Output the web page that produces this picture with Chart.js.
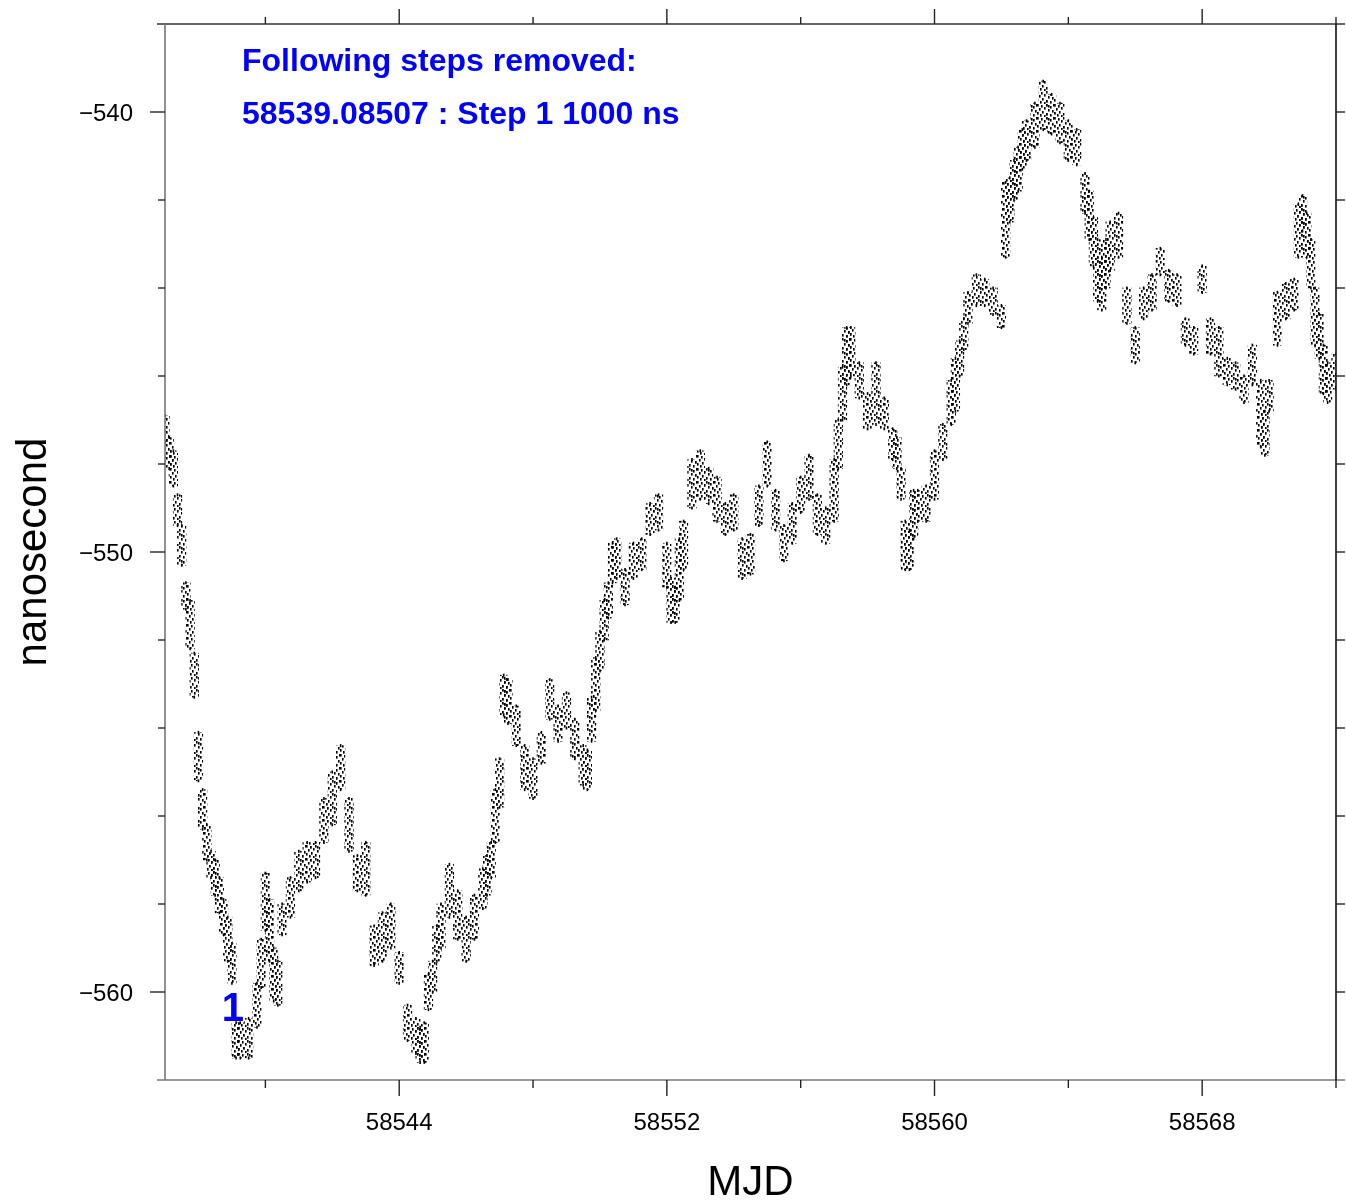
<!DOCTYPE html>
<html>
<head>
<meta charset="utf-8">
<script src="https://cdn.jsdelivr.net/npm/chart.js@4.4.1/dist/chart.umd.min.js"></script>
<style>
  html, body { margin: 0; padding: 0; background: #fff; }
  canvas { display: block; }
</style>
</head>
<body>
<canvas id="chart" width="1346" height="1203"></canvas>
<script>
// sample times (MJD), read every quarter day
const mjd = [
  58537.00, 58537.25, 58537.50, 58537.75, 58538.00, 58538.25, 58538.50, 58538.75,
  58539.00, 58539.25, 58539.50, 58539.75, 58540.00, 58540.25, 58540.50, 58540.75,
  58541.00, 58541.25, 58541.50, 58541.75, 58542.00, 58542.25, 58542.50, 58542.75,
  58543.00, 58543.25, 58543.50, 58543.75, 58544.00, 58544.25, 58544.50, 58544.75,
  58545.00, 58545.25, 58545.50, 58545.75, 58546.00, 58546.25, 58546.50, 58546.75,
  58547.00, 58547.25, 58547.50, 58547.75, 58548.00, 58548.25, 58548.50, 58548.75,
  58549.00, 58549.25, 58549.50, 58549.75, 58550.00, 58550.25, 58550.50, 58550.75,
  58551.00, 58551.25, 58551.50, 58551.75, 58552.00, 58552.25, 58552.50, 58552.75,
  58553.00, 58553.25, 58553.50, 58553.75, 58554.00, 58554.25, 58554.50, 58554.75,
  58555.00, 58555.25, 58555.50, 58555.75, 58556.00, 58556.25, 58556.50, 58556.75,
  58557.00, 58557.25, 58557.50, 58557.75, 58558.00, 58558.25, 58558.50, 58558.75,
  58559.00, 58559.25, 58559.50, 58559.75, 58560.00, 58560.25, 58560.50, 58560.75,
  58561.00, 58561.25, 58561.50, 58561.75, 58562.00, 58562.25, 58562.50, 58562.75,
  58563.00, 58563.25, 58563.50, 58563.75, 58564.00, 58564.25, 58564.50, 58564.75,
  58565.00, 58565.25, 58565.50, 58565.75, 58566.00, 58566.25, 58566.50, 58566.75,
  58567.00, 58567.25, 58567.50, 58567.75, 58568.00, 58568.25, 58568.50, 58568.75,
  58569.00, 58569.25, 58569.50, 58569.75, 58570.00, 58570.25, 58570.50, 58570.75,
  58571.00, 58571.25, 58571.50, 58571.75, 58572.00
];

// top edge of the noisy band (ns)
const upper = [
  -546.9, -547.7, -549.4, -551.1, -554.1, -556.2, -557.0, -557.9,
  -558.9, -560.7, -560.6, -559.8, -557.3, -559.0, -558.0, -557.4,
  -556.8, -556.6, -556.6, -555.6, -555.0, -554.4, -555.6, -556.9,
  -556.6, -558.5, -558.2, -558.0, -559.1, -560.3, -560.6, -560.7,
  -559.3, -558.0, -557.1, -557.7, -558.3, -557.8, -557.2, -556.6,
  -554.7, -552.9, -553.5, -554.4, -554.7, -554.1, -552.9, -553.5,
  -553.2, -553.8, -554.4, -553.3, -551.8, -550.7, -549.7, -550.4,
  -549.8, -549.7, -548.9, -548.7, -549.8, -550.8, -549.3, -547.9,
  -547.7, -548.1, -548.3, -548.9, -548.7, -549.7, -549.6, -548.5,
  -547.5, -548.6, -549.4, -548.9, -548.3, -547.8, -548.7, -549.0,
  -547.9, -545.8, -544.9, -545.7, -546.4, -545.7, -546.5, -547.2,
  -548.1, -549.5, -548.6, -548.5, -547.7, -547.1, -546.1, -545.2,
  -544.1, -543.7, -543.8, -544.0, -544.4, -541.5, -540.8, -540.2,
  -539.8, -539.3, -539.6, -539.8, -540.2, -540.4, -541.4, -542.4,
  -543.3, -542.5, -542.3, -544.0, -544.9, -544.0, -543.7, -543.1,
  -543.6, -543.7, -544.7, -544.9, -543.5, -544.7, -544.9, -545.6,
  -545.7, -546.0, -545.3, -546.1, -546.1, -544.1, -543.9, -543.8,
  -541.9, -542.9, -544.6, -545.7, -545.5
];

// bottom edge of the noisy band (ns)
const lower = [
  -547.5, -548.5, -550.3, -552.2, -555.2, -557.0, -557.8, -558.7,
  -559.8, -561.5, -561.5, -560.8, -558.6, -560.2, -558.7, -558.3,
  -557.7, -557.5, -557.4, -556.6, -556.2, -555.4, -556.8, -557.7,
  -557.8, -559.4, -559.3, -559.0, -559.8, -561.1, -561.4, -561.6,
  -560.0, -559.0, -558.3, -558.8, -559.3, -558.8, -558.1, -557.4,
  -555.8, -553.9, -554.4, -555.4, -555.6, -554.8, -553.8, -554.3,
  -554.0, -554.7, -555.3, -554.3, -552.7, -551.5, -550.6, -551.2,
  -550.6, -550.4, -549.6, -549.5, -550.8, -551.6, -550.4, -549.0,
  -548.8, -548.9, -549.3, -549.6, -549.5, -550.6, -550.5, -549.4,
  -548.5, -549.5, -550.2, -549.8, -549.1, -548.8, -549.6, -549.8,
  -549.3, -547.0, -546.0, -546.5, -547.2, -547.1, -547.2, -547.9,
  -548.8, -550.4, -549.3, -549.3, -548.8, -547.9, -547.1, -546.0,
  -544.8, -544.4, -544.4, -544.6, -544.9, -542.5, -541.8, -541.1,
  -540.8, -540.4, -540.5, -540.7, -541.1, -541.2, -542.3, -543.5,
  -544.5, -543.6, -543.3, -544.8, -545.7, -544.7, -544.5, -543.7,
  -544.3, -544.4, -545.3, -545.5, -544.1, -545.5, -546.0, -546.2,
  -546.3, -546.6, -546.2, -547.6, -546.8, -545.3, -544.7, -544.5,
  -542.7, -544.0, -545.6, -546.6, -546.3
];

// extra readings where the curve moves fast
const extraMjd = [
  58537.125, 58537.375, 58537.625, 58537.875, 58538.125, 58538.375, 58538.625, 58538.875,
  58539.125, 58539.875, 58540.125, 58540.375,
  58544.625, 58544.875, 58545.125, 58546.625, 58546.875, 58547.125,
  58549.625, 58549.875, 58550.125, 58550.375, 58552.125, 58552.375,
  58557.125, 58557.375, 58558.875, 58559.125, 58559.375,
  58560.625, 58560.875, 58562.125, 58562.375, 58562.625,
  58564.625, 58564.875, 58565.125, 58569.875,
  58570.875, 58571.125, 58571.375, 58571.625
];
const extraUpper = [
  -547.4, -548.7, -550.7, -552.3, -555.4, -556.8, -557.4, -558.3,
  -560.7, -558.8, -557.9, -559.3,
  -560.8, -559.6, -558.5, -556.9, -555.4, -552.8,
  -554.5, -552.4, -551.1, -549.8, -550.6, -549.7,
  -547.0, -544.9, -547.4, -549.3, -548.6,
  -545.6, -544.7, -541.6, -541.1, -540.4,
  -541.8, -542.9, -542.9, -546.8,
  -542.1, -542.3, -544.0, -545.3
];
const extraLower = [
  -548.1, -549.4, -551.3, -553.3, -556.3, -557.4, -558.2, -559.3,
  -561.5, -559.9, -559.3, -560.3,
  -561.6, -560.4, -559.3, -557.8, -556.6, -553.7,
  -555.4, -553.6, -552.0, -550.7, -551.6, -551.1,
  -548.1, -546.2, -548.1, -550.4, -549.7,
  -546.8, -545.4, -543.3, -542.0, -541.3,
  -542.9, -544.3, -544.0, -547.8,
  -543.3, -543.3, -545.3, -546.4
];

const xMinor = [58540, 58548, 58556, 58564, 58572];
const xMajor = [58544, 58552, 58560, 58568];
const yMinor = [-558, -556, -554, -552, -548, -546, -544, -542];
const yMajor = [-560, -550, -540];

const stepMjd = 58539.08507;
const stepValue = -560.65;   // where the step number sits
const stepNumber = '1';
const noteLines = ['Following steps removed:', '58539.08507 : Step 1 1000 ns'];

const FONT = '"Liberation Sans", Arial, Helvetica, sans-serif';
const BLUE = '#0000ff';

// small scattered dashes used to fill the band
function dashPattern() {
  const c = document.createElement('canvas');
  c.width = 17; c.height = 13;
  const g = c.getContext('2d');
  g.fillStyle = '#000';
  [[0, 0], [4, 1], [9, 0], [13, 2], [2, 4], [7, 3], [11, 5], [15, 6],
   [5, 7], [0, 8], [9, 9], [13, 10], [3, 10], [7, 11], [16, 0], [11, 1]].forEach(([x, y]) => {
    g.fillRect(x, y, 1.6, 2.6);
  });
  return g.createPattern(c, 'repeat');
}

const band = {
  type: 'bar',
  backgroundColor: dashPattern(),
  borderWidth: 0,
  barThickness: 8.6,
  grouped: false
};

const dash = {
  type: 'scatter',
  pointStyle: 'line',
  rotation: 90,
  radius: 1.5,
  borderWidth: 1.6,
  borderColor: '#000',
  backgroundColor: '#000',
  showLine: false
};

function floatBars(ts, lo, hi) {
  return ts.map((t, i) => ({ x: t, y: [lo[i], hi[i]] }));
}
function points(ts, ys) {
  return ts.map((t, i) => ({ x: t, y: ys[i] }));
}

// frame, ticks, titles and blue notes
const framePlugin = {
  id: 'frame',
  afterDraw(chart) {
    const ctx = chart.ctx;
    const xs = chart.scales.x, ys = chart.scales.y;
    const a = chart.chartArea;
    ctx.save();
    ctx.lineCap = 'butt';

    const hline = (y, x1, x2, col, w) => {
      ctx.strokeStyle = col; ctx.lineWidth = w;
      ctx.beginPath(); ctx.moveTo(x1, y); ctx.lineTo(x2, y); ctx.stroke();
    };
    const vline = (x, y1, y2, col, w) => {
      ctx.strokeStyle = col; ctx.lineWidth = w;
      ctx.beginPath(); ctx.moveTo(x, y1); ctx.lineTo(x, y2); ctx.stroke();
    };

    hline(a.top, a.left - 8, a.right + 9, '#333', 1.6);
    hline(a.bottom, a.left - 8, a.right + 9, '#777', 1.6);
    vline(a.left, a.top, a.bottom, '#777', 1.6);
    vline(a.right, a.top, a.bottom, '#111', 1.6);

    xMajor.forEach(v => {
      const px = xs.getPixelForValue(v);
      vline(px, a.bottom, a.bottom + 16, '#222', 1.4);
      vline(px, a.top, a.top - 15, '#222', 1.4);
    });
    xMinor.forEach(v => {
      const px = xs.getPixelForValue(v);
      vline(px, a.bottom, a.bottom + 8, '#222', 1.4);
      vline(px, a.top, a.top - 7, '#222', 1.4);
    });
    yMajor.forEach(v => {
      const py = ys.getPixelForValue(v);
      hline(py, a.left - 15, a.left, '#222', 1.4);
      hline(py, a.right, a.right + 9, '#222', 1.4);
    });
    yMinor.forEach(v => {
      const py = ys.getPixelForValue(v);
      hline(py, a.left - 7, a.left, '#222', 1.4);
      hline(py, a.right, a.right + 9, '#222', 1.4);
    });

    // axis titles
    ctx.fillStyle = '#000';
    ctx.font = '42px ' + FONT;
    ctx.textAlign = 'center';
    ctx.textBaseline = 'alphabetic';
    ctx.fillText('MJD', (a.left + a.right) / 2, 1195);
    ctx.save();
    ctx.translate(46, (a.top + a.bottom) / 2);
    ctx.rotate(-Math.PI / 2);
    ctx.fillText('nanosecond', 0, 0);
    ctx.restore();

    // notes about removed steps
    ctx.fillStyle = BLUE;
    ctx.font = 'bold 32px ' + FONT;
    ctx.textAlign = 'left';
    ctx.fillText(noteLines[0], 242, 71);
    ctx.fillText(noteLines[1], 242, 124);

    ctx.font = 'bold 40px ' + FONT;
    ctx.textAlign = 'center';
    ctx.fillText(stepNumber, xs.getPixelForValue(stepMjd) - 2, ys.getPixelForValue(stepValue));
    ctx.restore();
  }
};

new Chart(document.getElementById('chart'), {
  type: 'bar',
  data: {
    datasets: [
      Object.assign({ label: 'band', data: floatBars(mjd, lower, upper) }, band),
      Object.assign({ label: 'band extra', data: floatBars(extraMjd, extraLower, extraUpper) }, band),
      Object.assign({ label: 'upper', data: points(mjd, upper) }, dash),
      Object.assign({ label: 'lower', data: points(mjd, lower) }, dash),
      Object.assign({ label: 'upper extra', data: points(extraMjd, extraUpper) }, dash),
      Object.assign({ label: 'lower extra', data: points(extraMjd, extraLower) }, dash)
    ]
  },
  options: {
    responsive: false,
    animation: false,
    devicePixelRatio: 1,
    layout: { padding: { left: 0, right: 10, top: 24, bottom: 0 } },
    plugins: { legend: { display: false }, tooltip: { enabled: false } },
    scales: {
      x: {
        type: 'linear',
        position: 'bottom',
        offset: false,
        min: 58537,
        max: 58572,
        afterBuildTicks: s => { s.ticks = xMajor.map(v => ({ value: v })); },
        afterFit: s => { s.height = 123; s.paddingLeft = 0; s.paddingRight = 0; },
        grid: { display: false, drawTicks: false, offset: false },
        border: { display: false },
        ticks: {
          color: '#000',
          font: { family: FONT, size: 24 },
          padding: 29,
          maxRotation: 0,
          autoSkip: false,
          callback: v => String(v)
        }
      },
      y: {
        type: 'linear',
        min: -562,
        max: -538,
        afterBuildTicks: s => { s.ticks = yMajor.map(v => ({ value: v })); },
        afterFit: s => { s.width = 165; s.paddingTop = 0; s.paddingBottom = 0; },
        grid: { display: false, drawTicks: false },
        border: { display: false },
        ticks: {
          color: '#000',
          font: { family: FONT, size: 24 },
          padding: 32,
          labelOffset: 2,
          autoSkip: false,
          callback: v => String(v).replace('-', '\u2212')
        }
      }
    }
  },
  plugins: [framePlugin]
});
</script>
</body>
</html>
